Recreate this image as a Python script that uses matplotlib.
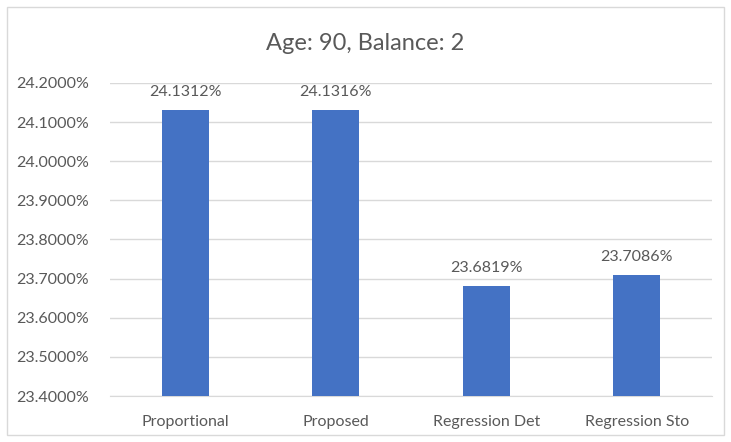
import matplotlib.pyplot as plt
from matplotlib.patches import Rectangle
from matplotlib.ticker import FuncFormatter

plt.rcParams["font.family"] = ["Lato", "DejaVu Sans"]

methods = ["Proportional", "Proposed", "Regression Det", "Regression Sto"]
rates = [24.1312, 24.1316, 23.6819, 23.7086]
y_ticks = [23.4, 23.5, 23.6, 23.7, 23.8, 23.9, 24.0, 24.1, 24.2]

text_color = "#595959"
bar_color = "#4472c4"

fig = plt.figure(figsize=(7.31, 4.42), dpi=100)
fig.patches.append(Rectangle((7 / 731, 7 / 442), 717 / 731, 428 / 442,
                             transform=fig.transFigure, fill=False,
                             edgecolor="#d9d9d9", linewidth=1))

ax = fig.add_axes([110 / 731, 1 - 396 / 442, 602 / 731, 313 / 442])
x = range(len(methods))
bars = ax.bar(x, rates, width=0.315, color=bar_color, zorder=3)

ax.set_ylim(23.4, 24.2)
ax.set_xlim(-0.5, len(methods) - 0.5)
ax.set_yticks(y_ticks)
ax.yaxis.set_major_formatter(FuncFormatter(lambda v, _: f"{v:.4f}%"))
ax.set_xticks(list(x))
ax.set_xticklabels(methods)
ax.grid(axis="y", color="#d9d9d9", linewidth=1, zorder=0)
ax.tick_params(length=0, labelsize=11.5, colors=text_color)
ax.tick_params(axis="y", pad=15)
ax.tick_params(axis="x", pad=14)
for side in ["top", "right", "left"]:
    ax.spines[side].set_visible(False)
ax.spines["bottom"].set_color("#d9d9d9")

for b, v in zip(bars, rates):
    ax.annotate(f"{v:.4f}%", (b.get_x() + b.get_width() / 2, v),
                xytext=(0, 8), textcoords="offset points",
                ha="center", va="bottom", fontsize=11.5, color=text_color)

fig.text(0.5, 1 - 43 / 442, "Age: 90, Balance: 2", ha="center", va="center",
         fontsize=17, color=text_color)

fig.savefig("out.png", dpi=100)
